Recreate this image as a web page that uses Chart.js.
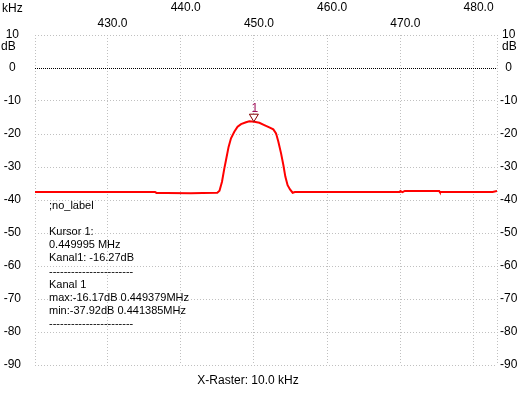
<!DOCTYPE html>
<html>
<head>
<meta charset="utf-8">
<script src="https://cdn.jsdelivr.net/npm/chart.js@4"></script>
<style>
  html, body { margin: 0; padding: 0; background: #fff; }
  #wrap { width: 531px; height: 400px; }
</style>
</head>
<body>
<div id="wrap"><canvas id="spec" width="531" height="400"></canvas></div>
<script>
// frequency in kHz, level in dB
const freqKHz = [
  420.1, 424.0, 428.0, 432.0, 436.5, 436.7, 438.0, 441.385, 443.0, 445.0,
  445.3, 445.64, 445.96, 446.19, 446.54, 446.87, 447.32, 447.77, 448.24, 448.92,
  449.379, 450.05, 450.74, 451.42, 452.1, 452.65, 453.02, 453.33, 453.7, 454.02,
  454.29, 454.6, 454.93, 455.29, 455.6, 458.0, 462.0, 466.0, 469.9, 470.0,
  470.3, 470.6, 473.0, 475.3, 475.4, 478.0, 482.6, 483.2
];
const levelDB = [
  -37.55, -37.55, -37.6, -37.55, -37.6, -37.85, -37.85, -37.92, -37.85, -37.8,
  -37.2, -34.45, -30.4, -27.9, -23.9, -21.3, -19.3, -17.8, -17.0, -16.45,
  -16.17, -16.3, -16.6, -17.3, -18.0, -18.6, -19.8, -22.3, -25.8, -29.4,
  -32.9, -35.5, -36.8, -37.8, -37.6, -37.6, -37.6, -37.6, -37.6, -37.3,
  -37.6, -37.25, -37.25, -37.25, -37.6, -37.6, -37.6, -37.3
];

const xTicks = [420.1, 430, 440, 450, 460, 470, 480, 483.2];
const xLabelled = [430, 440, 450, 460, 470, 480];
const yTicks = [10, 0, -10, -20, -30, -40, -50, -60, -70, -80, -90];

const cursorFreq = 449.995;
const cursorLevel = -16.27;

const infoLines = [
  ';no_label',
  '',
  'Kursor 1:',
  '0.449995 MHz',
  'Kanal1: -16.27dB',
  '-----------------------',
  'Kanal 1',
  'max:-16.17dB 0.449379MHz',
  'min:-37.92dB 0.441385MHz',
  '-----------------------'
];

const FONT = 'Liberation Sans, Arial, sans-serif';
const GRID = '#c0c0c0';

const overlay = {
  id: 'overlay',
  afterDatasetsDraw(chart) {
    const c = chart.ctx;
    const xs = chart.scales.x, ys = chart.scales.y;
    // cursor marker
    const px = xs.getPixelForValue(cursorFreq);
    const py = ys.getPixelForValue(cursorLevel);
    c.save();
    c.strokeStyle = '#800000';
    c.fillStyle = '#ffffff';
    c.lineWidth = 1;
    c.beginPath();
    c.moveTo(px - 4.5, py - 7.5);
    c.lineTo(px + 4.5, py - 7.5);
    c.lineTo(px, py);
    c.closePath();
    c.fill();
    c.stroke();
    c.fillStyle = '#a0105a';
    c.font = '12px ' + FONT;
    c.textAlign = 'center';
    c.textBaseline = 'middle';
    c.fillText('1', px + 1, py - 13);
    c.restore();
  },
  afterDraw(chart) {
    const c = chart.ctx;
    const a = chart.chartArea;
    c.save();
    c.fillStyle = '#000';
    c.textBaseline = 'middle';
    c.font = '12px ' + FONT;
    c.textAlign = 'left';
    c.fillText('kHz', 2, 9);
    c.fillText('dB', 1, 47);
    c.fillText('dB', a.right + 5, 47);
    c.textAlign = 'center';
    c.fillText('X-Raster: 10.0 kHz', 248, 381);
    c.textAlign = 'left';
    c.font = '11px ' + FONT;
    infoLines.forEach((t, i) => {
      if (t) c.fillText(t, 49, 206 + i * 13.1);
    });
    c.restore();
  }
};

new Chart(document.getElementById('spec'), {
  type: 'line',
  data: {
    datasets: [{
      data: freqKHz.map((f, i) => ({ x: f, y: levelDB[i] })),
      borderColor: '#ff0000',
      borderWidth: 2,
      pointRadius: 0,
      tension: 0,
      fill: false
    }]
  },
  options: {
    responsive: false,
    animation: false,
    layout: { padding: { top: 0, left: 0, right: 0, bottom: 35 } },
    plugins: { legend: { display: false }, tooltip: { enabled: false } },
    scales: {
      x: {
        type: 'linear',
        position: 'top',
        min: 420.1,
        max: 483.2,
        afterBuildTicks: s => { s.ticks = xTicks.map(v => ({ value: v })); },
        afterFit: s => { s.height = 35; },
        grid: { color: GRID, lineWidth: 1, drawTicks: false },
        border: { display: false, dash: [1, 2] },
        ticks: {
          color: '#000',
          padding: 3,
          labelOffset: 5,
          maxRotation: 0,
          autoSkip: false,
          font: { family: FONT, size: 12, lineHeight: '16px' },
          callback: v => {
            const i = xLabelled.indexOf(v);
            if (i < 0) return '';
            const t = v.toFixed(1);
            return i % 2 === 0 ? ['', t] : [t, ''];
          }
        }
      },
      y: {
        position: 'left',
        min: -90,
        max: 10,
        afterBuildTicks: s => { s.ticks = yTicks.map(v => ({ value: v })); },
        afterFit: s => { s.width = 35; },
        grid: {
          color: ctx => ctx.tick && ctx.tick.value === 0 ? '#000' : GRID,
          lineWidth: 1,
          drawTicks: false
        },
        border: {
          display: false,
          dash: ctx => ctx.tick && ctx.tick.value === 0 ? [1, 1] : [1, 2]
        },
        ticks: {
          color: '#000',
          padding: 14,
          crossAlign: 'center',
          autoSkip: false,
          font: { family: FONT, size: 12 },
          callback: v => String(v)
        }
      },
      y2: {
        position: 'right',
        min: -90,
        max: 10,
        afterBuildTicks: s => { s.ticks = yTicks.map(v => ({ value: v })); },
        afterFit: s => { s.width = 34; },
        grid: { display: false, drawTicks: false },
        border: { display: false },
        ticks: {
          color: '#000',
          padding: 3,
          crossAlign: 'center',
          autoSkip: false,
          font: { family: FONT, size: 12 },
          callback: v => String(v)
        }
      }
    }
  },
  plugins: [overlay]
});
</script>
</body>
</html>
